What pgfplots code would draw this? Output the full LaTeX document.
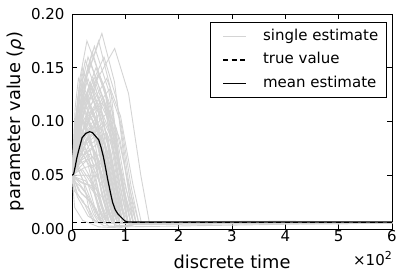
\documentclass[border=0pt]{standalone}
\usepackage{pgfplots}
\pgfplotsset{compat=1.18}
\usepackage{fontspec}
\setmainfont{DejaVu Sans}
\newcommand\f{\fontsize{15bp}{18bp}\selectfont}
\newcommand\fl{\fontsize{17.8bp}{21bp}\selectfont}
\begin{document}
\begin{tikzpicture}
\begin{axis}[
  scale only axis, width=320bp, height=215bp,
  xmin=0, xmax=6, ymin=0, ymax=0.2,
  xtick={0,1,2,3,4,5,6}, ytick={0,0.05,0.1,0.15,0.2},
  /pgf/number format/assume math mode=true,
  yticklabel style={/pgf/number format/fixed,/pgf/number format/fixed zerofill,/pgf/number format/precision=2, xshift=-4bp},
  xticklabel style={yshift=2bp},
  tick label style={font=\f},
  tick align=inside, tick pos=both,
  major tick length=5bp,
  every tick/.style={black, line width=0.6bp},
  axis line style={line width=0.8bp},
  every axis x label/.style={at={(axis description cs:0.5,-0.183)},anchor=base,font=\fl},
  every axis y label/.style={at={(axis description cs:-0.175,0.5)},rotate=90,anchor=center,font=\fl},
  xlabel={discrete time},
  ylabel={parameter value (\textit{ρ})},
  legend style={at={(axis description cs:0.983,0.961)}, anchor=north east, draw=black, line width=0.6bp, font=\f,
    column sep=14bp, inner xsep=6pt,
    nodes={text height=11bp, text depth=3.5bp, inner ysep=4.5bp}},
  legend cell align=left,
  legend image code/.code={\path (0bp,0bp); \draw[#1] (6bp,0bp) -- (29bp,0bp);},
  legend entries={single estimate, true value, mean estimate},
  gry/.style={color=black!17, line width=0.9bp, forget plot},
]
\addplot[color=black!17, line width=0.9bp] coordinates {(0,0.05)(0.28,0.142)(0.56,0.182)(0.796,0.137)(1.003,0.055)(1.15,0.006)(6,0.006)};
\addplot[gry] coordinates {(0,0.05)(0.40,0.133)(0.80,0.168)(1.06,0.126)(1.29,0.050)(1.45,0.006)(3,0.0072)(6,0.006)};
\addplot[gry] coordinates {(0,0.05)(0.25,0.138)(0.50,0.175)(0.72,0.131)(0.91,0.053)(1.05,0.006)(6,0.006)};
\addplot[gry] coordinates {(0,0.05)(0.125,0.125)(0.25,0.157)(0.53,0.118)(0.775,0.047)(0.95,0.006)(6,0.006)};
\addplot[gry] coordinates {(0,0.05)(0.175,0.124)(0.35,0.155)(0.61,0.116)(0.84,0.047)(1.0,0.006)(2.5,0.0048)(6,0.006)};
\addplot[gry] coordinates {(0,0.05)(0.225,0.120)(0.45,0.150)(0.71,0.113)(0.94,0.045)(1.1,0.006)(6,0.006)};
\addplot[gry] coordinates {(0,0.05)(0.15,0.113)(0.30,0.140)(0.54,0.105)(0.75,0.042)(0.9,0.006)(6,0.006)};
\addplot[gry] coordinates {(0,0.05)(0.10,0.110)(0.20,0.135)(0.46,0.101)(0.69,0.041)(0.85,0.006)(4,0.0074)(6,0.006)};
\addplot[gry] coordinates {(0,0.05)(0.20,0.106)(0.40,0.130)(0.72,0.098)(1.0,0.039)(1.2,0.006)(6,0.006)};
\addplot[gry] coordinates {(0,0.05)(0.275,0.103)(0.55,0.125)(0.83,0.094)(1.075,0.038)(1.25,0.006)(6,0.006)};
\addplot[gry] coordinates {(0,0.05)(0.075,0.099)(0.15,0.120)(0.39,0.090)(0.60,0.036)(0.75,0.006)(6,0.006)};
\addplot[gry] coordinates {(0,0.05)(0.15,0.099)(0.30,0.120)(0.56,0.090)(0.79,0.036)(0.95,0.006)(5,0.0046)(6,0.006)};
\addplot[gry] coordinates {(0,0.05)(0.225,0.096)(0.45,0.115)(0.67,0.086)(0.86,0.035)(1.0,0.006)(6,0.006)};
\addplot[gry] coordinates {(0,0.05)(0.125,0.092)(0.25,0.110)(0.47,0.083)(0.66,0.033)(0.8,0.006)(6,0.006)};
\addplot[gry] coordinates {(0,0.05)(0.175,0.089)(0.35,0.105)(0.57,0.079)(0.76,0.032)(0.9,0.006)(6,0.006)};
\addplot[gry] coordinates {(0,0.05)(0.30,0.085)(0.60,0.100)(0.82,0.075)(1.01,0.030)(1.15,0.006)(6,0.006)};
\addplot[gry] coordinates {(0,0.05)(0.10,0.085)(0.20,0.100)(0.40,0.075)(0.575,0.030)(0.7,0.006)(6,0.006)};
\addplot[gry] coordinates {(0,0.05)(0.075,0.082)(0.15,0.095)(0.35,0.071)(0.525,0.029)(0.65,0.006)(6,0.006)};
\addplot[gry] coordinates {(0,0.05)(0.20,0.078)(0.40,0.090)(0.62,0.068)(0.81,0.027)(0.95,0.006)(6,0.006)};
\addplot[gry] coordinates {(0,0.05)(0.15,0.075)(0.30,0.085)(0.50,0.064)(0.675,0.026)(0.8,0.006)(6,0.006)};
\addplot[gry] coordinates {(0,0.05)(0.05,0.071)(0.10,0.080)(0.30,0.060)(0.475,0.024)(0.6,0.006)(6,0.006)};
\addplot[gry] coordinates {(0,0.05)(0.25,0.071)(0.50,0.080)(0.72,0.060)(0.91,0.024)(1.05,0.006)(6,0.006)};
\addplot[gry] coordinates {(0,0.05)(0.125,0.068)(0.25,0.075)(0.45,0.056)(0.625,0.023)(0.75,0.006)(6,0.006)};
\addplot[gry] coordinates {(0,0.05)(0.175,0.064)(0.35,0.070)(0.55,0.053)(0.725,0.021)(0.85,0.006)(6,0.006)};
\addplot[gry] coordinates {(0,0.05)(0.075,0.061)(0.15,0.065)(0.33,0.049)(0.49,0.020)(0.6,0.006)(6,0.006)};
\addplot[gry] coordinates {(0,0.05)(0.225,0.057)(0.45,0.060)(0.63,0.045)(0.79,0.018)(0.9,0.006)(6,0.006)};
\addplot[gry] coordinates {(0,0.05)(0.10,0.054)(0.20,0.055)(0.38,0.041)(0.54,0.017)(0.65,0.006)(6,0.006)};
\addplot[gry] coordinates {(0,0.05)(0.15,0.050)(0.30,0.050)(0.46,0.038)(0.60,0.015)(0.7,0.006)(6,0.006)};
\addplot[gry] coordinates {(0,0.05)(0.05,0.047)(0.10,0.045)(0.26,0.034)(0.40,0.014)(0.5,0.006)(6,0.006)};
\addplot[gry] coordinates {(0,0.05)(0.20,0.043)(0.40,0.040)(0.56,0.030)(0.70,0.012)(0.8,0.006)(6,0.006)};
\addplot[gry] coordinates {(0,0.05)(0.025,0.0395)(0.05,0.035)(0.21,0.026)(0.35,0.011)(0.45,0.006)(6,0.006)};
\addplot[gry] coordinates {(0,0.05)(0.125,0.036)(0.25,0.030)(0.39,0.023)(0.51,0.009)(0.6,0.006)(6,0.006)};
\addplot[gry] coordinates {(0,0.05)(0.325,0.113)(0.65,0.140)(0.91,0.105)(1.14,0.042)(1.3,0.006)(6,0.006)};
\addplot[gry] coordinates {(0,0.05)(0.35,0.092)(0.70,0.110)(0.90,0.083)(1.075,0.033)(1.2,0.006)(6,0.006)};
\addplot[gry] coordinates {(0,0.05)(0.19,0.131)(0.38,0.165)(0.63,0.124)(0.845,0.050)(1.0,0.006)(6,0.006)};
\addplot[gry] coordinates {(0,0.05)(0.11,0.117)(0.22,0.145)(0.49,0.109)(0.73,0.044)(0.9,0.006)(6,0.006)};
\addplot[gry] coordinates {(0,0.05)(0.06,0.092)(0.12,0.110)(0.35,0.083)(0.555,0.033)(0.7,0.006)(6,0.006)};
\addplot[gry] coordinates {(0,0.05)(0.09,0.075)(0.18,0.085)(0.33,0.064)(0.46,0.026)(0.55,0.006)(6,0.006)};
\addplot[gry] coordinates {(0,0.05)(0.275,0.082)(0.55,0.095)(0.73,0.071)(0.89,0.029)(1.0,0.006)(6,0.006)};
\addplot[gry] coordinates {(0,0.05)(0.04,0.057)(0.08,0.060)(0.21,0.045)(0.32,0.018)(0.4,0.006)(6,0.006)};
\addplot[gry] coordinates {(0,0.05)(0.15,0.127)(0.30,0.160)(0.60,0.120)(0.8625,0.048)(1.05,0.006)(6,0.006)};
\addplot[gry] coordinates {(0,0.05)(0.21,0.134)(0.42,0.170)(0.692,0.128)(0.93,0.051)(1.1,0.006)(6,0.006)};
\addplot[gry] coordinates {(0,0.05)(0.30,0.127)(0.60,0.160)(0.84,0.120)(1.05,0.048)(1.2,0.006)(6,0.006)};
\addplot[gry] coordinates {(0,0.05)(0.10,0.120)(0.20,0.150)(0.44,0.113)(0.65,0.045)(0.8,0.006)(6,0.006)};
\addplot[gry] coordinates {(0,0.05)(0.25,0.117)(0.50,0.145)(0.76,0.109)(0.99,0.044)(1.15,0.006)(6,0.006)};
\addplot[gry] coordinates {(0,0.05)(0.175,0.110)(0.35,0.135)(0.59,0.101)(0.80,0.041)(0.95,0.006)(6,0.006)};
\addplot[gry] coordinates {(0,0.05)(0.075,0.106)(0.15,0.130)(0.41,0.098)(0.64,0.039)(0.8,0.006)(6,0.006)};
\addplot[gry] coordinates {(0,0.05)(0.225,0.110)(0.45,0.135)(0.69,0.101)(0.90,0.041)(1.05,0.006)(6,0.006)};
\addplot[gry] coordinates {(0,0.05)(0.125,0.103)(0.25,0.125)(0.49,0.094)(0.70,0.038)(0.85,0.006)(6,0.006)};
\addplot[gry] coordinates {(0,0.05)(0.275,0.092)(0.55,0.110)(0.77,0.083)(0.96,0.033)(1.1,0.006)(6,0.006)};
\addplot[gry] coordinates {(0,0.05)(0.05,0.096)(0.10,0.115)(0.34,0.086)(0.55,0.035)(0.7,0.006)(6,0.006)};
\addplot[gry] coordinates {(0,0.05)(0.20,0.099)(0.40,0.120)(0.64,0.090)(0.85,0.036)(1.0,0.006)(6,0.006)};
\addplot[gry] coordinates {(0,0.05)(0.15,0.085)(0.30,0.100)(0.52,0.075)(0.71,0.030)(0.85,0.006)(6,0.006)};
\addplot[gry] coordinates {(0,0.05)(0.10,0.099)(0.20,0.120)(0.48,0.090)(0.725,0.036)(0.9,0.006)(6,0.006)};
\addplot[gry] coordinates {(0,0.05)(0.225,0.085)(0.45,0.100)(0.65,0.075)(0.825,0.030)(0.95,0.006)(6,0.006)};
\addplot[gry] coordinates {(0,0.05)(0.125,0.078)(0.25,0.090)(0.45,0.068)(0.625,0.027)(0.75,0.006)(6,0.006)};
\addplot[gry] coordinates {(0,0.05)(0.175,0.082)(0.35,0.095)(0.53,0.071)(0.69,0.029)(0.8,0.006)(6,0.006)};
\addplot[gry] coordinates {(0,0.05)(0.075,0.071)(0.15,0.080)(0.35,0.060)(0.525,0.024)(0.65,0.006)(6,0.006)};
\addplot[gry] coordinates {(0,0.05)(0.25,0.078)(0.50,0.090)(0.70,0.068)(0.875,0.027)(1.0,0.006)(6,0.006)};
\addplot[gry] coordinates {(0,0.05)(0.10,0.064)(0.20,0.070)(0.40,0.053)(0.575,0.021)(0.7,0.006)(6,0.006)};
\addplot[gry] coordinates {(0,0.05)(0.20,0.068)(0.40,0.075)(0.58,0.056)(0.74,0.023)(0.85,0.006)(6,0.006)};
\addplot[gry] coordinates {(0,0.05)(0.15,0.061)(0.30,0.065)(0.48,0.049)(0.64,0.020)(0.75,0.006)(6,0.006)};
\addplot[gry] coordinates {(0,0.05)(0.05,0.057)(0.10,0.060)(0.28,0.045)(0.44,0.018)(0.55,0.006)(6,0.006)};
\addplot[gry] coordinates {(0,0.05)(0.275,0.064)(0.55,0.070)(0.71,0.053)(0.85,0.021)(0.95,0.006)(6,0.006)};
\addplot[gry] coordinates {(0,0.05)(0.125,0.047)(0.25,0.045)(0.41,0.034)(0.55,0.014)(0.65,0.006)(6,0.006)};
\addplot[gry] coordinates {(0,0.05)(0.175,0.043)(0.35,0.040)(0.49,0.030)(0.61,0.012)(0.7,0.006)(6,0.006)};
\addplot[gry] coordinates {(0,0.05)(0.075,0.043)(0.15,0.040)(0.31,0.030)(0.45,0.012)(0.55,0.006)(6,0.006)};
\addplot[gry] coordinates {(0,0.05)(0.225,0.050)(0.45,0.050)(0.59,0.038)(0.71,0.015)(0.8,0.006)(6,0.006)};
\addplot[gry] coordinates {(0,0.05)(0.10,0.033)(0.20,0.025)(0.32,0.019)(0.425,0.008)(0.5,0.006)(6,0.006)};
\addplot[gry] coordinates {(0,0.05)(0.175,0.033)(0.35,0.025)(0.45,0.019)(0.54,0.008)(0.6,0.006)(6,0.006)};
\addplot[gry] coordinates {(0,0.05)(0.30,0.099)(0.60,0.120)(0.80,0.090)(0.975,0.036)(1.1,0.006)(6,0.006)};
\addplot[gry] coordinates {(0,0.05)(0.325,0.078)(0.65,0.090)(0.81,0.068)(0.95,0.027)(1.05,0.006)(6,0.006)};
\addplot[gry] coordinates {(0,0.05)(0.35,0.106)(0.70,0.130)(0.92,0.098)(1.11,0.039)(1.25,0.006)(6,0.006)};
\addplot[gry] coordinates {(0,0.05)(0.06,0.113)(0.12,0.140)(0.41,0.105)(0.67,0.042)(0.85,0.006)(6,0.006)};
\addplot[gry] coordinates {(0,0.05)(0.14,0.138)(0.28,0.175)(0.61,0.131)(0.895,0.053)(1.1,0.006)(6,0.006)};
\addplot[gry] coordinates {(0,0.05)(0.05,0.020)(0.2,0.008)(0.5,0.002)(0.9,0.001)(1.2,0.006)(6,0.006)};
\addplot[gry] coordinates {(0,0.05)(0.1,0.030)(0.3,0.012)(0.6,0.003)(1.0,0.002)(1.3,0.006)(6,0.006)};
\addplot[gry] coordinates {(0,0.05)(0.08,0.060)(0.25,0.040)(0.45,0.015)(0.7,0.002)(1.1,0.003)(1.25,0.006)(6,0.006)};
\addplot[gry] coordinates {(0,0.05)(0.2,0.090)(0.45,0.070)(0.65,0.025)(0.8,0.003)(1.15,0.004)(6,0.006)};
\addplot[gry] coordinates {(0,0.05)(0.3,0.110)(0.55,0.085)(0.75,0.030)(0.9,0.002)(1.2,0.005)(6,0.006)};
\addplot[gry] coordinates {(0,0.05)(0.15,0.100)(0.4,0.095)(0.6,0.050)(0.8,0.004)(1.0,0.002)(6,0.006)};
\addplot[gry] coordinates {(0,0.05)(0.1,0.090)(0.2,0.125)(0.28,0.118)(0.4,0.140)(0.55,0.110)(0.75,0.060)(0.95,0.006)(6,0.006)};
\addplot[gry] coordinates {(0,0.05)(0.15,0.100)(0.3,0.130)(0.38,0.120)(0.5,0.145)(0.62,0.130)(0.85,0.070)(1.05,0.006)(6,0.006)};
\addplot[gry] coordinates {(0,0.05)(0.2,0.080)(0.35,0.110)(0.45,0.100)(0.6,0.120)(0.8,0.080)(1.0,0.030)(1.15,0.006)(6,0.006)};
\addplot[black, line width=1.8bp, dash pattern=on 5bp off 3.5bp] coordinates {(0,0.006)(6,0.006)};
\addplot[black, line width=1.2bp] coordinates {(0,0.050)(0.03,0.051)(0.06,0.058)(0.09,0.066)(0.125,0.073)(0.19,0.085)(0.26,0.089)(0.33,0.0905)(0.38,0.0898)(0.43,0.087)(0.50,0.083)(0.55,0.075)(0.59,0.067)(0.625,0.058)(0.67,0.046)(0.72,0.034)(0.76,0.025)(0.81,0.018)(0.86,0.014)(0.90,0.012)(0.94,0.010)(0.99,0.0075)(1.05,0.0065)(6,0.0065)};
\coordinate (ll) at (rel axis cs:0,0);
\coordinate (ur) at (rel axis cs:1,1);
\end{axis}
\path (ur|-ll) coordinate (lr);
\node[anchor=base east, font=\f, inner sep=0pt] at ([yshift=-36bp]lr) {×10\raisebox{6bp}{\fontsize{11bp}{12bp}\selectfont 2}};
\pgfresetboundingbox
\path[use as bounding box] ([xshift=-72bp,yshift=-48bp]ll) rectangle ([xshift=11bp,yshift=14bp]ur);
\end{tikzpicture}
\end{document}
